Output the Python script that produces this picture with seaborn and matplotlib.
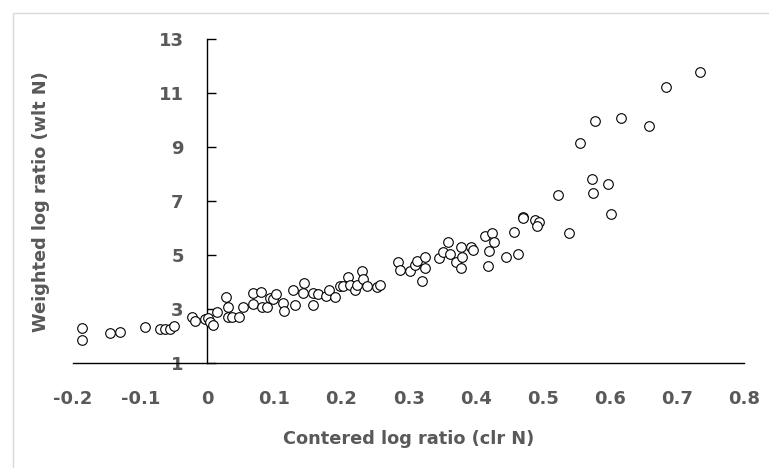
import numpy as np
import pandas as pd
import seaborn as sns
import matplotlib.pyplot as plt
from matplotlib.patches import Rectangle

# values
clr_n = [-0.187, -0.187, -0.145, -0.130, -0.093, -0.070, -0.063, -0.056, -0.050,
         -0.023, -0.018, -0.003, 0.001, 0.004, 0.008, 0.014, 0.028, 0.031, 0.031,
         0.037, 0.047, 0.053, 0.068, 0.080, 0.068, 0.082, 0.089, 0.093, 0.098,
         0.102, 0.113, 0.114, 0.128, 0.131, 0.144, 0.143, 0.158, 0.158, 0.165,
         0.177, 0.181, 0.190, 0.198, 0.202, 0.210, 0.213, 0.220, 0.223, 0.231,
         0.232, 0.238, 0.253, 0.257, 0.284, 0.287, 0.302, 0.310, 0.313, 0.325,
         0.325, 0.320, 0.345, 0.351, 0.359, 0.362, 0.371, 0.378, 0.380, 0.378,
         0.393, 0.396, 0.414, 0.424, 0.427, 0.420, 0.418, 0.445, 0.457, 0.463,
         0.470, 0.471, 0.488, 0.494, 0.491, 0.523, 0.539, 0.555, 0.573, 0.597,
         0.575, 0.602, 0.578, 0.616, 0.658, 0.683, 0.734]
wlt_n = [2.31, 1.86, 2.12, 2.16, 2.34, 2.27, 2.27, 2.27, 2.38,
         2.71, 2.57, 2.64, 2.68, 2.53, 2.42, 2.90, 3.46, 3.09, 2.71,
         2.71, 2.71, 3.09, 3.61, 3.64, 3.20, 3.09, 3.09, 3.42, 3.38,
         3.57, 3.23, 2.94, 3.72, 3.16, 3.98, 3.60, 3.16, 3.60, 3.57,
         3.49, 3.71, 3.46, 3.86, 3.86, 4.20, 3.90, 3.71, 3.90, 4.42,
         4.12, 3.86, 3.83, 3.90, 4.75, 4.46, 4.42, 4.64, 4.79, 4.94,
         4.53, 4.05, 4.90, 5.12, 5.49, 5.05, 4.75, 4.53, 4.94, 5.31,
         5.31, 5.20, 5.71, 5.83, 5.49, 5.16, 4.60, 4.94, 5.86, 5.05,
         6.42, 6.38, 6.31, 6.23, 6.09, 7.23, 5.83, 9.16, 7.83, 7.64,
         7.31, 6.53, 9.97, 10.08, 9.79, 11.23, 11.79]
y_ticks = [1, 3, 5, 7, 9, 11, 13]
x_ticks = [-0.2, -0.1, 0, 0.1, 0.2, 0.3, 0.4, 0.5, 0.6, 0.7, 0.8]

df = pd.DataFrame({'clr': clr_n, 'wlt': wlt_n})

sns.set_style('white')
plt.rcParams['font.family'] = ['DejaVu Sans']
grey = '#595959'

fig = plt.figure(figsize=(7.69, 4.68), dpi=100)
ax = fig.add_axes([0.0951, 0.2237, 0.8724, 0.6923])

sns.scatterplot(data=df, x='clr', y='wlt', ax=ax, s=48, facecolor='white',
                edgecolor='black', linewidth=0.8, zorder=3)

ax.set_xlim(-0.2, 0.8)
ax.set_ylim(1, 13)
ax.set_xticks(x_ticks)
ax.set_xticklabels(['0' if v == 0 else f'{v:g}' for v in x_ticks])
ax.set_yticks(y_ticks)

# y axis crosses at x = 0
ax.spines['left'].set_position(('data', 0))
ax.spines['top'].set_visible(False)
ax.spines['right'].set_visible(False)
for side in ['left', 'bottom']:
    ax.spines[side].set_color('black')
    ax.spines[side].set_linewidth(1.0)

ax.tick_params(axis='y', left=True, direction='in', length=6.5, width=1, color='black',
               pad=17, labelsize=13, labelcolor=grey)
ax.tick_params(axis='x', length=0, pad=19, labelsize=13, labelcolor=grey)
for lab in ax.get_xticklabels() + ax.get_yticklabels():
    lab.set_fontweight('bold')

ax.set_xlabel('Contered log ratio (clr N)', fontsize=12.8, fontweight='bold', color=grey)
ax.set_ylabel('Weighted log ratio (wlt N)', fontsize=12.8, fontweight='bold', color=grey)
ax.xaxis.set_label_coords(0.5, -0.205)
ax.yaxis.set_label_coords(-0.034, 0.5)

# light chart-area border
fig.patches.append(Rectangle((12.5 / 769, -0.1), 1.2, (468 - 12.5) / 468 + 0.1,
                             transform=fig.transFigure, fill=False,
                             edgecolor='#d9d9d9', linewidth=1))

fig.savefig('out.png', dpi=100)
